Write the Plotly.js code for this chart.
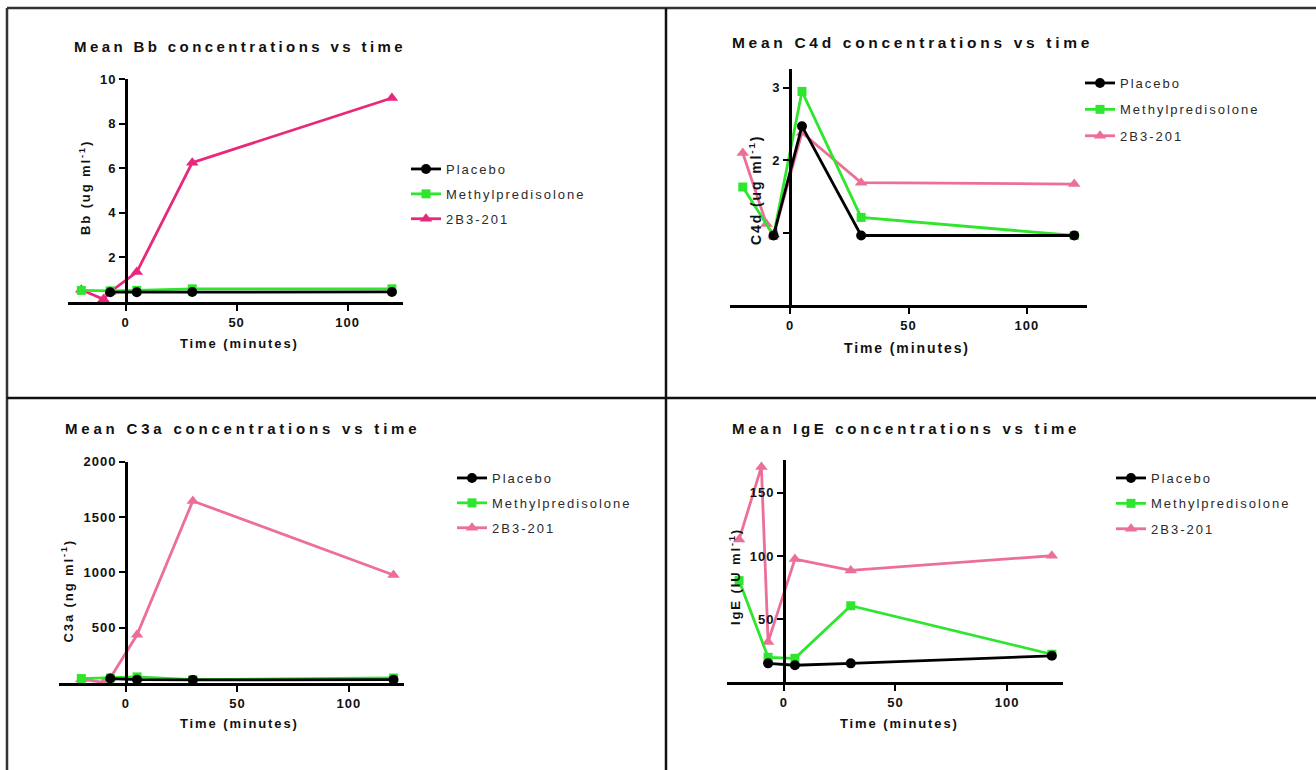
<!DOCTYPE html>
<html>
<head>
<meta charset="utf-8">
<script src="https://cdn.plot.ly/plotly-3.0.1.min.js"></script>
<style>
  html, body { margin: 0; padding: 0; background: #ffffff; }
  #chart { width: 1316px; height: 770px; }
  text.legendtext, g[class*="legend"] text { letter-spacing: 2px; }
  g[class$="tick"] > text { letter-spacing: 1px; }
  g.annotation[data-index="0"] text { letter-spacing: 3.4px; }
  g.annotation[data-index="1"] text { letter-spacing: 3.7px; }
  g.annotation[data-index="2"] text { letter-spacing: 3.8px; }
  g.annotation[data-index="3"] text { letter-spacing: 3.7px; }
  g.annotation[data-index="4"] text,
  g.annotation[data-index="5"] text,
  g.annotation[data-index="6"] text,
  g.annotation[data-index="7"] text { letter-spacing: 1.9px; }
  g.annotation[data-index="8"] text,
  g.annotation[data-index="9"] text,
  g.annotation[data-index="10"] text,
  g.annotation[data-index="11"] text { letter-spacing: 1.9px; }
</style>
</head>
<body>
<div id="chart"></div>
<script>
// ---------------- data ----------------
const seriesNames = ["Placebo", "Methylpredisolone", "2B3-201"];
const timePlacebo = [-7, 5, 30, 120];
const timeMethyl = [-20, -7, 5, 30, 120];
const time2B3 = [-20, -10, -7, 5, 30, 120];
const xTickVals = [0, 50, 100];

const bbPlacebo = [0.44, 0.44, 0.45, 0.45];
const bbMethyl = [0.52, 0.50, 0.52, 0.59, 0.59];
const bb2B3 = [0.55, 0.12, 0.45, 1.34, 6.25, 9.15];
const bbTicks = [2, 4, 6, 8, 10];

const c4dPlacebo = [0.96, 2.47, 0.96, 0.96];
const c4dMethyl = [1.63, 0.96, 2.95, 1.21, 0.96];
const c4d2B3 = [2.10, 1.12, 0.96, 2.38, 1.69, 1.67];
const c4dTicks = [1, 2, 3];

const c3aPlacebo = [40, 30, 28, 30];
const c3aMethyl = [40, 45, 55, 30, 45];
const c3a2B3 = [35, 5, 45, 436, 1645, 976];
const c3aTicks = [500, 1000, 1500, 2000];

const igePlacebo = [15, 13.5, 15, 21];
const igeMethyl = [80.5, 19.8, 19, 60.6, 22.2];
const ige2B3 = [113, 170.5, 32, 97.6, 88.6, 100.2];
const igeTicks = [50, 100, 150];

const panelTitles = [
  "Mean Bb concentrations vs time",
  "Mean C4d concentrations vs time",
  "Mean C3a concentrations vs time",
  "Mean IgE concentrations vs time"
];
const xTitle = "Time (minutes)";
const yTitles = [
  "Bb (ug ml<sup>-1</sup>)",
  "C4d (ug ml<sup>-1</sup>)",
  "C3a (ng ml<sup>-1</sup>)",
  "IgE (IU ml<sup>-1</sup>)"
];

// ---------------- styling ----------------
const W = 1316, H = 770;
const PX = p => p / W;
const PY = p => 1 - p / H;
const FONT = "Liberation Sans, Arial, Helvetica, sans-serif";
const BLACK = "#000000";
const GREEN = "#2ee62e";
const MAGENTA = "#e8287a";
const PINK = "#ec6f98";

function traces(idx, placebo, methyl, b2b3, pinkColor) {
  const sfx = idx === 1 ? "" : String(idx);
  const xa = "x" + sfx, ya = "y" + sfx, lg = "legend" + sfx;
  const common = {type: "scatter", mode: "lines+markers", xaxis: xa, yaxis: ya,
                  legend: lg, cliponaxis: false, hoverinfo: "x+y+name"};
  return [
    Object.assign({}, common, {name: seriesNames[2], x: time2B3, y: b2b3, legendrank: 3,
      legendgroup: "c" + idx,
      line: {color: pinkColor, width: 2.8},
      marker: {symbol: "triangle-up", size: 11, color: pinkColor}}),
    Object.assign({}, common, {name: seriesNames[1], x: timeMethyl, y: methyl, legendrank: 2,
      legendgroup: "b" + idx,
      line: {color: GREEN, width: 2.8},
      marker: {symbol: "square", size: 9, color: GREEN}}),
    Object.assign({}, common, {name: seriesNames[0], x: timePlacebo, y: placebo, legendrank: 1,
      legendgroup: "a" + idx,
      line: {color: BLACK, width: 2.8},
      marker: {symbol: "circle", size: 10, color: BLACK}})
  ];
}

const data = [].concat(
  traces(1, bbPlacebo, bbMethyl, bb2B3, MAGENTA),
  traces(2, c4dPlacebo, c4dMethyl, c4d2B3, PINK),
  traces(3, c3aPlacebo, c3aMethyl, c3a2B3, PINK),
  traces(4, igePlacebo, igeMethyl, ige2B3, PINK)
);

const tickFont = {family: FONT, size: 13, color: "#111", weight: 700};
function xAxis(domainPx, range, anchor) {
  return {domain: [PX(domainPx[0]), PX(domainPx[1])], range: range, anchor: anchor,
    showgrid: false, zeroline: false, showline: true, linecolor: "#000", linewidth: 3,
    ticks: "outside", ticklen: 6, tickwidth: 2, tickcolor: "#000",
    tickvals: xTickVals, tickfont: tickFont, fixedrange: true};
}
function yAxis(domainPx, range, posPx, tickvals) {
  return {domain: [PY(domainPx[0]), PY(domainPx[1])], range: range, anchor: "free",
    position: PX(posPx),
    showgrid: false, zeroline: false, showline: true, linecolor: "#000", linewidth: 3,
    ticks: "outside", ticklen: 6, tickwidth: 2, tickcolor: "#000",
    tickvals: tickvals, tickfont: tickFont, fixedrange: true};
}

function legendAt(xPx, yTopPx, gap) {
  return {x: PX(xPx), y: PY(yTopPx), xanchor: "left", yanchor: "top",
    bgcolor: "rgba(0,0,0,0)", borderwidth: 0, itemwidth: 30,
    tracegroupgap: gap, traceorder: "grouped",
    font: {family: FONT, size: 13, color: "#2a2a2a"}};
}

function titleAnn(text, xPx, yPx, size) {
  return {text: text, xref: "paper", yref: "paper", x: PX(xPx), y: PY(yPx),
    xanchor: "left", yanchor: "middle", align: "left", showarrow: false,
    font: {family: FONT, size: size, color: "#111", weight: 700}};
}
function yTitleAnn(text, xPx, yBottomPx, size) {
  return {text: text, xref: "paper", yref: "paper", x: PX(xPx), y: PY(yBottomPx),
    xanchor: "center", yanchor: "bottom", align: "left", textangle: -90, showarrow: false,
    font: {family: FONT, size: size, color: "#111", weight: 700}};
}

const annotations = [
  titleAnn(panelTitles[0], 72, 47, 15),
  titleAnn(panelTitles[1], 730, 42, 15.5),
  titleAnn(panelTitles[2], 63, 428, 15),
  titleAnn(panelTitles[3], 730, 428, 15),
  titleAnn(xTitle, 178, 343, 13),
  titleAnn(xTitle, 842, 348, 14),
  titleAnn(xTitle, 178, 723, 13),
  titleAnn(xTitle, 838, 723, 13),
  yTitleAnn(yTitles[0], 85, 237, 13),
  yTitleAnn(yTitles[1], 755, 247, 14),
  yTitleAnn(yTitles[2], 67, 645, 13),
  yTitleAnn(yTitles[3], 735, 627, 13)
];

const lineStyle = {color: "#333333", width: 2.5};
const shapes = [
  {type: "line", xref: "paper", yref: "paper", x0: PX(7), x1: PX(1320), y0: PY(8), y1: PY(8), line: lineStyle},
  {type: "line", xref: "paper", yref: "paper", x0: PX(7), x1: PX(7), y0: PY(8), y1: PY(775), line: lineStyle},
  {type: "line", xref: "paper", yref: "paper", x0: PX(666), x1: PX(666), y0: PY(8), y1: PY(775), line: {color: "#111", width: 2.5}},
  {type: "line", xref: "paper", yref: "paper", x0: PX(7), x1: PX(1320), y0: PY(398), y1: PY(398), line: {color: "#111", width: 2.5}}
];

const layout = {
  width: W, height: H,
  margin: {l: 0, r: 0, t: 0, b: 0, pad: 0},
  paper_bgcolor: "#ffffff", plot_bgcolor: "rgba(0,0,0,0)",
  font: {family: FONT},
  showlegend: true,
  xaxis: xAxis([68, 403], [-26, 125], "y"),
  yaxis: yAxis([302, 79], [0, 10], 126, bbTicks),
  xaxis2: xAxis([730, 1087], [-25.4, 125.4], "y2"),
  yaxis2: yAxis([305, 69], [0, 3.26], 790, c4dTicks),
  xaxis3: xAxis([59, 404], [-30, 124.7], "y3"),
  yaxis3: yAxis([683, 461.7], [0, 2000], 126, c3aTicks),
  xaxis4: xAxis([727, 1063], [-25.4, 125], "y4"),
  yaxis4: yAxis([682.3, 460], [0, 176], 784, igeTicks),
  legend: legendAt(406, 154, 5),
  legend2: legendAt(1080, 68, 6.5),
  legend3: legendAt(452, 463, 5),
  legend4: legendAt(1111, 463, 5.5),
  annotations: annotations,
  shapes: shapes
};

Plotly.newPlot("chart", data, layout, {displayModeBar: false, staticPlot: true});
</script>
</body>
</html>
